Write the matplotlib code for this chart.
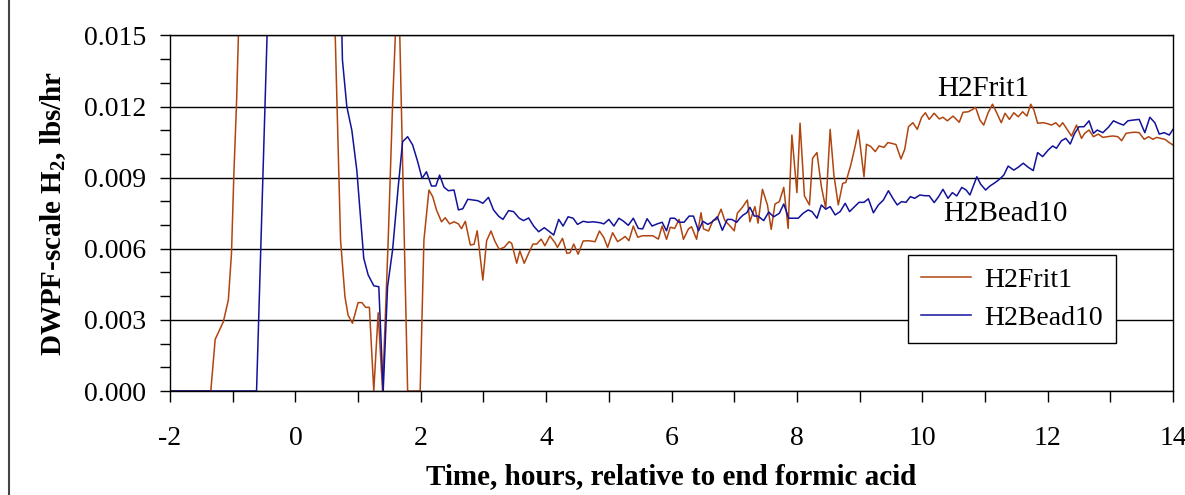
import matplotlib
matplotlib.use('Agg')
import matplotlib.pyplot as plt
from matplotlib.lines import Line2D
from matplotlib.ticker import MultipleLocator

plt.rcParams['font.family'] = ['Liberation Serif', 'DejaVu Serif']
plt.rcParams['mathtext.fontset'] = 'custom'
plt.rcParams['mathtext.rm'] = 'Liberation Serif'
plt.rcParams['mathtext.bf'] = 'Liberation Serif:bold'
plt.rcParams['axes.unicode_minus'] = False

# --- dados ---
# H2Frit1 (valores acima de 0.015 ficam fora da área visível)
t_frit = [-2.0, -1.35, -1.28, -1.15, -1.07, -1.02, -0.98, -0.94, -0.90, -0.85, 0.60, 0.63,
          0.65, 0.72, 0.79, 0.84, 0.91, 1.00, 1.06, 1.12, 1.18, 1.25, 1.32, 1.39, 1.48, 1.55, 1.64,
          1.79, 1.87, 1.95, 1.99, 2.05, 2.13, 2.19, 2.25, 2.33, 2.39, 2.46, 2.53, 2.60, 2.65, 2.71,
          2.79, 2.85, 2.90, 2.99, 3.05, 3.12, 3.18, 3.25, 3.33, 3.41, 3.45, 3.53, 3.58, 3.65, 3.72,
          3.79, 3.85, 3.92, 3.98, 4.06, 4.14, 4.18, 4.26, 4.33, 4.38, 4.44, 4.51, 4.59, 4.68, 4.78,
          4.85, 4.92, 4.98, 5.06, 5.14, 5.22, 5.26, 5.32, 5.39, 5.46, 5.54, 5.62, 5.70, 5.79, 5.85,
          5.92, 5.98, 6.05, 6.12, 6.19, 6.27, 6.32, 6.40, 6.47, 6.51, 6.59, 6.66, 6.72, 6.79, 6.85,
          6.92, 7.00, 7.05, 7.13, 7.21, 7.25, 7.33, 7.38, 7.45, 7.53, 7.59, 7.65, 7.72, 7.79, 7.86,
          7.92, 8.00, 8.05, 8.12, 8.20, 8.25, 8.32, 8.39, 8.46, 8.53, 8.59, 8.66, 8.73, 8.78, 8.86,
          8.93, 8.98, 9.07, 9.11, 9.18, 9.25, 9.31, 9.39, 9.45, 9.51, 9.58, 9.66, 9.72, 9.78, 9.85,
          9.92, 9.99, 10.05, 10.11, 10.19, 10.27, 10.33, 10.40, 10.49, 10.59, 10.65, 10.73, 10.79,
          10.85, 10.92, 10.98, 11.05, 11.12, 11.18, 11.26, 11.32, 11.39, 11.46, 11.53, 11.60, 11.67,
          11.73, 11.78, 11.84, 11.93, 12.01, 12.06, 12.13, 12.19, 12.24, 12.31, 12.38, 12.46, 12.54,
          12.59, 12.66, 12.73, 12.81, 12.88, 12.95, 13.04, 13.12, 13.18, 13.25, 13.32, 13.39, 13.46,
          13.54, 13.61, 13.68, 13.74, 13.80, 13.87, 13.94, 14.0]
v_frit = [0, 0, 0.00218, 0.00292, 0.00384, 0.0058, 0.0093, 0.0121, 0.0160, 0.020, 0.020, 0.0155,
          0.01347, 0.00637, 0.00398, 0.0032, 0.00286, 0.00373, 0.00373, 0.00353, 0.00353, 0, 0.0033, 0,
          0.00637, 0.0121, 0.018,
          0, 0, 0, 0, 0.00637, 0.00848, 0.0082, 0.00764, 0.00714, 0.00731, 0.00705, 0.00714, 0.00705,
          0.00685, 0.00716,
          0.00616, 0.00619, 0.00676, 0.00468, 0.00634, 0.00675, 0.00633, 0.00598, 0.00606, 0.0063,
          0.00623, 0.00539, 0.00591, 0.00539, 0.00581,
          0.0062, 0.0062, 0.00641, 0.00613, 0.00654, 0.00626, 0.00606, 0.00644, 0.00581, 0.00583,
          0.0062, 0.00577, 0.00633, 0.00634, 0.0063,
          0.00675, 0.00647, 0.00606, 0.00668, 0.0063, 0.00644, 0.00652, 0.00634, 0.00696, 0.00649,
          0.00655, 0.00655, 0.00655, 0.00641, 0.00696,
          0.0064, 0.00691, 0.00686, 0.00724, 0.0064, 0.00684, 0.00693, 0.0064, 0.00752, 0.00684,
          0.00675, 0.00719, 0.00724, 0.00767, 0.00719,
          0.007, 0.00676, 0.0075, 0.00775, 0.00806, 0.00714, 0.00778, 0.00708, 0.00851, 0.00785,
          0.00682, 0.00789, 0.00799, 0.00859, 0.00686,
          0.0108, 0.00837, 0.0113, 0.00823, 0.00785, 0.00982, 0.01006, 0.00862, 0.00771, 0.01104,
          0.00911, 0.00785, 0.00876, 0.0088, 0.00954,
          0.01034, 0.01101, 0.00904, 0.01041, 0.01031, 0.0101, 0.01034, 0.01028, 0.01048, 0.01045,
          0.0104, 0.00979, 0.0102, 0.01115, 0.01132,
          0.01104, 0.01155, 0.01174, 0.01146, 0.01172, 0.01148, 0.01155, 0.0114, 0.0116, 0.01134,
          0.01176, 0.01178, 0.01186,
          0.01197, 0.01143, 0.01122, 0.01174, 0.0121, 0.01178, 0.01132, 0.01172, 0.01146, 0.01174,
          0.01157, 0.01178, 0.0116,
          0.0121, 0.01186, 0.0113, 0.01132, 0.01127, 0.01122, 0.01132, 0.01115, 0.01132, 0.01104,
          0.01076, 0.01122, 0.01066,
          0.01087, 0.01101, 0.01073, 0.01084, 0.0107, 0.01073, 0.01076, 0.01073, 0.01056, 0.01087,
          0.0109, 0.01092, 0.0109,
          0.01062, 0.01073, 0.01062, 0.0107, 0.01066, 0.01062, 0.01048, 0.01038]

# H2Bead10
t_bead = [-2.0, -0.62, -0.45, -0.40, 0.70, 0.74, 0.75, 0.82, 0.90, 0.98, 1.09, 1.16, 1.25, 1.33,
          1.40, 1.47, 1.55, 1.64, 1.71, 1.79, 1.87, 1.95, 2.02, 2.09, 2.17, 2.24, 2.30, 2.37, 2.44,
          2.53, 2.60, 2.67, 2.75, 2.91, 2.99, 3.08, 3.16, 3.24, 3.31, 3.40, 3.48, 3.57, 3.64, 3.72,
          3.80, 3.88, 3.97, 4.04, 4.12, 4.20, 4.27, 4.35, 4.43, 4.50, 4.59, 4.67, 4.75, 4.86, 4.92,
          5.00, 5.08, 5.16, 5.23, 5.31, 5.39, 5.47, 5.54, 5.61, 5.69, 5.77, 5.85, 5.92, 5.98, 6.05,
          6.12, 6.20, 6.28, 6.35, 6.43, 6.50, 6.58, 6.65, 6.73, 6.81, 6.89, 6.96, 7.04, 7.09, 7.14,
          7.20, 7.25, 7.32, 7.38, 7.47, 7.55, 7.63, 7.72, 7.79, 7.87, 8.02, 8.10, 8.18, 8.24, 8.32,
          8.39, 8.46, 8.53, 8.61, 8.69, 8.77, 8.84, 8.92, 8.99, 9.07, 9.14, 9.22, 9.30, 9.38, 9.46,
          9.53, 9.60, 9.67, 9.74, 9.81, 9.88, 9.96, 10.04, 10.11, 10.19, 10.26, 10.33, 10.41, 10.48,
          10.55, 10.63, 10.70, 10.76, 10.87, 10.93, 11.01, 11.08, 11.16, 11.23, 11.30, 11.37, 11.46,
          11.53, 11.61, 11.69, 11.77, 11.84, 11.92, 12.01, 12.08, 12.14, 12.22, 12.29, 12.36, 12.43,
          12.50, 12.58, 12.66, 12.73, 12.79, 12.88, 12.97, 13.05, 13.13, 13.21, 13.28, 13.36, 13.46,
          13.55, 13.63, 13.71, 13.78, 13.86, 13.94, 14.0]
v_bead = [0, 0, 0.0152, 0.022, 0.022, 0.0152, 0.01397, 0.012, 0.011, 0.0093, 0.0056, 0.0049,
          0.00444, 0.0044,
          0, 0.0044, 0.00595, 0.00862, 0.01052, 0.01073, 0.01038, 0.00968, 0.00897, 0.00925, 0.00865,
          0.00865, 0.00911, 0.0086, 0.00845,
          0.00848, 0.00764, 0.00769, 0.00809, 0.00803, 0.00792, 0.00817, 0.00764, 0.00738, 0.00724,
          0.00761, 0.00757, 0.00729, 0.00719, 0.0073,
          0.00696, 0.00672, 0.00689, 0.00675, 0.00658, 0.00724, 0.00696, 0.00735, 0.00729, 0.00703,
          0.00716, 0.00712, 0.00714, 0.0071, 0.00705,
          0.00724, 0.00696, 0.00729, 0.00717, 0.00699, 0.00729, 0.00686, 0.00684, 0.00727, 0.00696,
          0.00705, 0.00712, 0.00676, 0.00729, 0.00729,
          0.00712, 0.00712, 0.00738, 0.00738, 0.00676, 0.00716, 0.00703, 0.00714, 0.00735, 0.00678,
          0.00724, 0.00724, 0.00712, 0.00729, 0.00742,
          0.00752, 0.00775, 0.00738, 0.00738, 0.00719, 0.00755, 0.00735, 0.0075, 0.00789, 0.00729,
          0.00729, 0.0075, 0.00764, 0.00757, 0.00729,
          0.00785, 0.00767, 0.00778, 0.00743, 0.00757, 0.00792, 0.00757, 0.00778, 0.00796, 0.00796,
          0.00811, 0.00752, 0.00785, 0.00806, 0.00845,
          0.00813, 0.00785, 0.00799, 0.00796, 0.0082, 0.00813, 0.00827, 0.00824, 0.00824, 0.00795,
          0.0082, 0.00851, 0.00813, 0.00837,
          0.00823, 0.00859, 0.00848, 0.00827, 0.00904, 0.00873, 0.00848, 0.00865, 0.00879, 0.00893,
          0.00911, 0.00949, 0.00932,
          0.00944, 0.00961, 0.00944, 0.0093, 0.01006, 0.00989, 0.01017, 0.01034, 0.01024, 0.01056,
          0.01066, 0.01042, 0.01087,
          0.01115, 0.01115, 0.0114, 0.01087, 0.01101, 0.0109, 0.01113, 0.0114, 0.0113, 0.01122,
          0.0114, 0.01143, 0.01146,
          0.0109, 0.01155, 0.01132, 0.01084, 0.0109, 0.0108, 0.01104]

cor_frit = '#B0450F'
cor_bead = '#12129A'

fig, ax = plt.subplots(figsize=(11.85, 4.95), dpi=100)
fig.subplots_adjust(left=0.1435, right=0.9899, bottom=0.2101, top=0.9283)

ax.plot(t_frit, v_frit, color=cor_frit, lw=1.1, label='H2Frit1')
ax.plot(t_bead, v_bead, color=cor_bead, lw=1.1, label='H2Bead10')

ax.set_xlim(-2, 14)
ax.set_ylim(0, 0.015)
ax.xaxis.set_major_locator(MultipleLocator(2))
ax.xaxis.set_minor_locator(MultipleLocator(1))
ax.yaxis.set_major_locator(MultipleLocator(0.003))
ax.yaxis.set_minor_locator(MultipleLocator(0.001))
ax.yaxis.set_major_formatter(plt.FormatStrFormatter('%.3f'))

ax.grid(True, axis='y', which='major', color='black', lw=1.0)
ax.set_axisbelow(True)
for s in ax.spines.values():
    s.set_color('black')
    s.set_linewidth(1.0)

ax.tick_params(axis='both', which='both', direction='out', color='black', width=1.0)
ax.tick_params(axis='x', which='both', length=8, pad=17, labelsize=20)
ax.tick_params(axis='y', which='both', length=7, pad=10, labelsize=20)

ax.set_xlabel('Time, hours, relative to end formic acid', fontsize=21, fontweight='bold', labelpad=9)
ax.set_ylabel(r'DWPF-scale H$_\mathbf{2}$, lbs/hr', fontsize=21, fontweight='bold', labelpad=12)

ax.text(10.97, 0.01274, 'H2Frit1', fontsize=21, ha='center', va='center')
ax.text(11.32, 0.00747, 'H2Bead10', fontsize=21, ha='center', va='center')

leg = ax.legend(loc='lower left', bbox_to_anchor=(0.736, 0.135), borderaxespad=0, fontsize=20,
                frameon=True, fancybox=False, edgecolor='black', framealpha=1,
                handlelength=1.8, handletextpad=0.5, borderpad=0.45, labelspacing=0.45)
leg.get_frame().set_linewidth(1.0)

# borda esquerda da figura original
fig.add_artist(Line2D([9 / 1185, 9 / 1185], [0, 1], color='#444444', lw=1.5))

fig.savefig('out.png', dpi=100)
